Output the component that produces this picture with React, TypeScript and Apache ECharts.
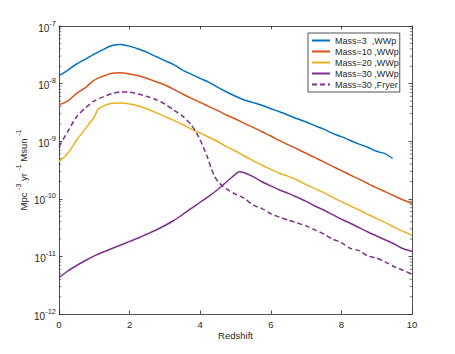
import React, { useEffect, useRef } from 'react';
import * as echarts from 'echarts';

// Redshift grids (one per series)
const xBlue = [0, 0.25, 0.5, 0.75, 1, 1.25, 1.5, 1.75, 2, 2.25, 2.5, 2.75, 3, 3.25, 3.5, 3.75, 4, 4.25, 4.5, 4.75, 5, 5.25, 5.5, 5.75, 6, 6.25, 6.5, 6.75, 7, 7.25, 7.5, 7.75, 8, 8.25, 8.5, 8.75, 9, 9.25, 9.45];
const yBlue = [1.37e-8, 1.72e-8, 2.19e-8, 2.67e-8, 3.24e-8, 3.89e-8, 4.57e-8, 4.79e-8, 4.47e-8, 3.98e-8, 3.49e-8, 2.95e-8, 2.51e-8, 2.14e-8, 1.72e-8, 1.45e-8, 1.23e-8, 1.05e-8, 8.61e-9, 7.14e-9, 6.03e-9, 5.19e-9, 4.68e-9, 4.2e-9, 3.67e-9, 3.24e-9, 2.82e-9, 2.45e-9, 2.15e-9, 1.86e-9, 1.62e-9, 1.37e-9, 1.2e-9, 1.03e-9, 8.91e-10, 7.83e-10, 6.68e-10, 6.03e-10, 5.01e-10];

const xOrange = [0, 0.25, 0.5, 0.75, 1, 1.25, 1.5, 1.75, 2, 2.25, 2.5, 2.75, 3, 3.25, 3.5, 3.75, 4, 4.25, 4.5, 4.75, 5, 5.25, 5.5, 5.75, 6, 6.25, 6.5, 6.75, 7, 7.25, 7.5, 7.75, 8, 8.25, 8.5, 8.75, 9, 9.25, 9.5, 9.75, 10];
const yOrange = [4.25e-9, 4.99e-9, 6.78e-9, 8.51e-9, 1.15e-8, 1.34e-8, 1.51e-8, 1.55e-8, 1.47e-8, 1.37e-8, 1.23e-8, 1.08e-8, 9.46e-9, 7.94e-9, 6.61e-9, 5.55e-9, 4.73e-9, 3.98e-9, 3.39e-9, 2.85e-9, 2.43e-9, 2.04e-9, 1.74e-9, 1.46e-9, 1.23e-9, 1.02e-9, 8.61e-10, 7.33e-10, 6.17e-10, 5.18e-10, 4.37e-10, 3.66e-10, 3.09e-10, 2.59e-10, 2.19e-10, 1.84e-10, 1.55e-10, 1.32e-10, 1.12e-10, 9.55e-11, 8.32e-11];

const xYellow = [0, 0.25, 0.5, 0.75, 1, 1.1, 1.25, 1.5, 1.75, 2, 2.25, 2.5, 2.75, 3, 3.25, 3.5, 3.75, 4, 4.25, 4.5, 4.75, 5, 5.25, 5.5, 5.75, 6, 6.25, 6.5, 6.75, 7, 7.25, 7.5, 7.75, 8, 8.25, 8.5, 8.75, 9, 9.25, 9.5, 9.75, 10];
const yYellow = [4.41e-10, 6.17e-10, 1.05e-9, 1.66e-9, 2.63e-9, 3.55e-9, 4.07e-9, 4.55e-9, 4.6e-9, 4.43e-9, 4.08e-9, 3.63e-9, 3.13e-9, 2.67e-9, 2.3e-9, 1.95e-9, 1.62e-9, 1.38e-9, 1.17e-9, 9.77e-10, 8.04e-10, 6.76e-10, 5.53e-10, 4.59e-10, 3.82e-10, 3.25e-10, 2.77e-10, 2.45e-10, 2.12e-10, 1.76e-10, 1.5e-10, 1.28e-10, 1.06e-10, 8.91e-11, 7.5e-11, 6.4e-11, 5.37e-11, 4.52e-11, 3.85e-11, 3.2e-11, 2.72e-11, 2.32e-11];

const xPurple = [0, 0.25, 0.5, 0.75, 1, 1.25, 1.5, 1.75, 2, 2.25, 2.5, 2.75, 3, 3.25, 3.5, 3.75, 4, 4.25, 4.5, 4.75, 5, 5.1, 5.25, 5.5, 5.75, 6, 6.25, 6.5, 6.75, 7, 7.25, 7.5, 7.75, 8, 8.25, 8.5, 8.75, 9, 9.25, 9.5, 9.75, 10];
const yPurple = [4.27e-12, 5.58e-12, 6.95e-12, 8.49e-12, 1.02e-11, 1.19e-11, 1.37e-11, 1.58e-11, 1.82e-11, 2.09e-11, 2.45e-11, 2.87e-11, 3.44e-11, 4.2e-11, 5.33e-11, 6.84e-11, 8.71e-11, 1.11e-10, 1.45e-10, 1.98e-10, 2.69e-10, 2.95e-10, 2.84e-10, 2.42e-10, 1.98e-10, 1.67e-10, 1.42e-10, 1.24e-10, 1.06e-10, 9.04e-11, 7.5e-11, 6.4e-11, 5.3e-11, 4.41e-11, 3.76e-11, 3.16e-11, 2.65e-11, 2.26e-11, 1.93e-11, 1.64e-11, 1.36e-11, 1.23e-11];

const xFryer = [0, 0.25, 0.5, 0.75, 1, 1.25, 1.5, 1.75, 2, 2.25, 2.5, 2.75, 3, 3.25, 3.5, 3.75, 3.9, 4, 4.1, 4.2, 4.3, 4.4, 4.5, 4.6, 4.75, 5, 5.25, 5.5, 5.75, 6, 6.25, 6.5, 6.75, 7, 7.25, 7.5, 7.75, 8, 8.25, 8.5, 8.75, 9, 9.25, 9.5, 9.75, 10];
const yFryer = [8.04e-10, 1.48e-9, 2.66e-9, 3.8e-9, 5.01e-9, 5.89e-9, 6.68e-9, 7.16e-9, 7.08e-9, 6.61e-9, 5.96e-9, 5.25e-9, 4.42e-9, 3.47e-9, 2.72e-9, 1.91e-9, 1.37e-9, 1.05e-9, 7.59e-10, 5.37e-10, 3.55e-10, 2.51e-10, 2.0e-10, 1.74e-10, 1.48e-10, 1.2e-10, 1.02e-10, 7.76e-11, 6.76e-11, 5.5e-11, 4.79e-11, 4.27e-11, 3.8e-11, 3.39e-11, 2.88e-11, 2.45e-11, 2.0e-11, 1.74e-11, 1.38e-11, 1.26e-11, 1.02e-11, 9.33e-12, 7.94e-12, 6.61e-12, 5.75e-12, 4.9e-12];

const seriesNames = ['Mass=3  ,WWp', 'Mass=10 ,WWp', 'Mass=20 ,WWp', 'Mass=30 ,WWp', 'Mass=30 ,Fryer'];
const seriesColors = ['#0072BD', '#D95319', '#EDB120', '#7E2F8E', '#7E2F8E'];

const xTicks = { min: 0, max: 10, interval: 2 };
const yRange = { min: 1e-12, max: 1e-7 };
const minorMultipliers = [2, 3, 4, 5, 6, 7, 8, 9];
const decades = [-12, -11, -10, -9, -8];

const AX = '#262626';
const FONT = '"Liberation Sans", Arial, Helvetica, sans-serif';

function pairs(xs: number[], ys: number[]) {
  return xs.map((x, i) => [x, ys[i]]);
}

export default function App() {
  const ref = useRef<HTMLDivElement>(null);
  useEffect(() => {
    const chart = echarts.init(ref.current!, null, { renderer: 'svg' });
    const minorVals: number[][] = [];
    decades.forEach((e) => minorMultipliers.forEach((m) => minorVals.push([0, m * Math.pow(10, e)])));

    const lineSeries = [
      [xBlue, yBlue],
      [xOrange, yOrange],
      [xYellow, yYellow],
      [xPurple, yPurple],
      [xFryer, yFryer],
    ].map(([xs, ys], i) => ({
      name: seriesNames[i],
      type: 'line',
      data: pairs(xs, ys),
      showSymbol: false,
      symbol: 'none',
      smooth: 0.25,
      lineStyle: {
        color: seriesColors[i],
        width: 1.5,
        type: i === 4 ? [5, 3] : 'solid',
      },
      itemStyle: { color: seriesColors[i] },
      z: 3 + i,
    }));

    const tickStyle = { color: AX, width: 0.8 };
    const option: any = {
      animation: false,
      textStyle: { fontFamily: FONT },
      grid: { left: 59, right: 43, top: 26, bottom: 40, containLabel: false },
      legend: {
        data: seriesNames,
        orient: 'vertical',
        left: 308,
        top: 33,
        padding: [2, 1, 2, 3],
        itemGap: 0,
        itemWidth: 18,
        itemHeight: 11,
        itemStyle: { opacity: 0 },
        borderColor: AX,
        borderWidth: 0.8,
        backgroundColor: '#ffffff',
        textStyle: { fontSize: 9, color: AX, fontFamily: FONT, lineHeight: 11 },
      },
      xAxis: [
        {
          type: 'value',
          ...xTicks,
          position: 'bottom',
          name: 'Redshift',
          nameLocation: 'middle',
          nameGap: 16,
          nameMoveOverlap: false,
          nameTextStyle: { fontSize: 9.5, color: AX, fontFamily: FONT },
          axisLine: { show: true, onZero: false, lineStyle: tickStyle },
          axisTick: { show: true, inside: true, length: 3.5, lineStyle: tickStyle },
          axisLabel: { color: AX, fontSize: 9.5, margin: 5, fontFamily: FONT },
          splitLine: { show: false },
        },
        {
          type: 'value',
          ...xTicks,
          position: 'top',
          axisLine: { show: true, onZero: false, lineStyle: tickStyle },
          axisTick: { show: true, inside: true, length: 3.5, lineStyle: tickStyle },
          axisLabel: { show: false },
          splitLine: { show: false },
        },
      ],
      yAxis: [
        {
          type: 'log',
          logBase: 10,
          ...yRange,
          splitNumber: 5,
          position: 'left',
          name: '{a|Mpc }{s|-3}{a| yr }{s|-1}{a| Msun }{s|-1}',
          nameLocation: 'middle',
          nameGap: 31,
          nameMoveOverlap: false,
          nameTextStyle: {
            color: AX,
            fontFamily: FONT,
            rich: {
              a: { fontSize: 9.5, color: AX, fontFamily: FONT, lineHeight: 13, verticalAlign: 'bottom' },
              s: { fontSize: 7, color: AX, fontFamily: FONT, lineHeight: 13, verticalAlign: 'top' },
            },
          },
          axisLine: { show: true, onZero: false, lineStyle: tickStyle },
          axisTick: { show: true, inside: true, length: 3.5, lineStyle: tickStyle },
          axisLabel: {
            margin: 3,
            formatter: (v: number) => `{b|10}{s|${Math.round(Math.log10(v))}}`,
            rich: {
              b: { fontSize: 10, color: AX, fontFamily: FONT, lineHeight: 14, verticalAlign: 'bottom' },
              s: { fontSize: 7.5, color: AX, fontFamily: FONT, lineHeight: 14, verticalAlign: 'top' },
            },
          },
          splitLine: { show: false },
        },
        {
          type: 'log',
          logBase: 10,
          ...yRange,
          splitNumber: 5,
          position: 'right',
          axisLine: { show: true, onZero: false, lineStyle: tickStyle },
          axisTick: { show: true, inside: true, length: 3.5, lineStyle: tickStyle },
          axisLabel: { show: false },
          splitLine: { show: false },
        },
      ],
      series: [
        ...lineSeries,
        {
          type: 'custom',
          name: 'minorTicks',
          silent: true,
          clip: false,
          xAxisIndex: 0,
          yAxisIndex: 0,
          encode: { x: 0, y: 1 },
          data: minorVals,
          z: 10,
          renderItem: (_p: any, api: any) => {
            const v = api.value(1);
            const l = api.coord([xTicks.min, v]);
            const r = api.coord([xTicks.max, v]);
            const st = { stroke: AX, lineWidth: 0.6 };
            return {
              type: 'group',
              children: [
                { type: 'line', shape: { x1: l[0], y1: l[1], x2: l[0] + 2.2, y2: l[1] }, style: st },
                { type: 'line', shape: { x1: r[0] - 2.2, y1: r[1], x2: r[0], y2: r[1] }, style: st },
              ],
            };
          },
        },
      ],
    };
    chart.setOption(option);
    return () => chart.dispose();
  }, []);
  return (
    <div
      ref={ref}
      style={{ position: 'fixed', left: 0, top: 0, width: 455, height: 354, background: '#ffffff' }}
    />
  );
}
